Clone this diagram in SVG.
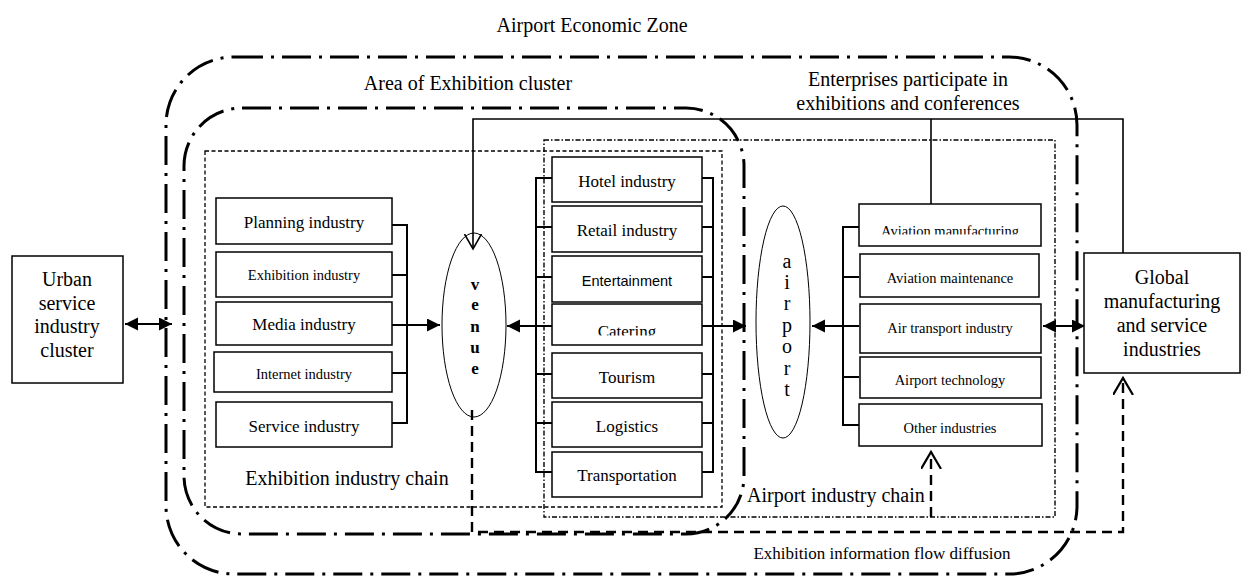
<svg xmlns="http://www.w3.org/2000/svg" width="1242" height="576" viewBox="0 0 1242 576">
<style>
.t{font-family:"Liberation Serif","Times New Roman",serif;fill:#000;text-anchor:middle}
.s{font-family:"Liberation Sans",Arial,sans-serif;fill:#000;text-anchor:middle}
.f20{font-size:20px}.f17{font-size:17px}.f14{font-size:14.5px}
.box{fill:#fff;stroke:#000;stroke-width:1.5}
.dd{fill:none;stroke:#000;stroke-width:3;stroke-dasharray:29 8 3 8}
.fd{fill:none;stroke:#000;stroke-width:1.3;stroke-dasharray:4 2.5}
.fdd{fill:none;stroke:#000;stroke-width:1.4;stroke-dasharray:5 2 1.5 2}
.ln{fill:none;stroke:#000;stroke-width:1.6}
.br{fill:none;stroke:#000;stroke-width:2}
.dsh{fill:none;stroke:#000;stroke-width:2.4;stroke-dasharray:10 6}
.el{fill:none;stroke:#000;stroke-width:1}
</style>
<defs>
<marker id="fa" markerUnits="userSpaceOnUse" markerWidth="14" markerHeight="14" refX="13" refY="6.5" orient="auto-start-reverse" viewBox="0 0 14 14">
<path d="M0,0 L13,6.5 L0,13 z" fill="#000" stroke="none"/>
</marker>
<marker id="oa" markerUnits="userSpaceOnUse" markerWidth="20" markerHeight="22" refX="17" refY="10" orient="auto" viewBox="0 0 20 22">
<path d="M0,0 L17,10 L0,20" fill="none" stroke="#000" stroke-width="2.2" stroke-dasharray="none"/>
</marker>
<marker id="ov" markerUnits="userSpaceOnUse" markerWidth="18" markerHeight="20" refX="15" refY="8.5" orient="auto" viewBox="0 0 18 20">
<path d="M0,0 L15,8.5 L0,17" fill="none" stroke="#000" stroke-width="1.6"/>
</marker>
<clipPath id="clipCat"><rect x="552" y="300" width="150" height="35.5"/></clipPath>
<clipPath id="clipAvm"><rect x="859" y="200" width="182" height="34.5"/></clipPath>
</defs>

<g id="zones">
<rect id="airport-economic-zone" class="dd" x="166" y="57" width="911" height="517" rx="68" ry="68"/>
<rect id="exhibition-cluster" class="dd" x="184" y="108" width="560" height="426" rx="58" ry="58"/>
<rect id="exhibition-chain" class="fd" x="205" y="151" width="517" height="356"/>
<rect id="airport-chain" class="fdd" x="544" y="140" width="511" height="377"/>
</g>

<g id="labels">
<text class="t f20" x="592" y="32">Airport Economic Zone</text>
<text class="t f20" x="468" y="90">Area of Exhibition cluster</text>
<text class="t f20" x="908" y="86">Enterprises participate in</text>
<text class="t f20" x="908" y="110">exhibitions and conferences</text>
<text class="t f20" x="347" y="485">Exhibition industry chain</text>
<text class="t f20" x="747" y="502" style="text-anchor:start">Airport industry chain</text>
<text class="t f17" x="882" y="559">Exhibition information flow diffusion</text>
</g>

<g id="connectors">
<path class="ln" d="M1123,253 V119 H473 V249" marker-end="url(#ov)"/>
<path class="ln" d="M931,119 V204"/>
<path class="dsh" d="M472,410 V532 H1123 V378" marker-end="url(#oa)"/>
<path class="dsh" d="M931,517 V452" marker-end="url(#oa)"/>
<path class="br" d="M392,325 H440" marker-end="url(#fa)"/>
<path class="br" d="M552,326 H507" marker-end="url(#fa)"/>
<path class="br" d="M702,326 H746" marker-end="url(#fa)"/>
<path class="br" d="M859,326 H812" marker-end="url(#fa)"/>
<path class="br" d="M1043,326 H1085" marker-start="url(#fa)" marker-end="url(#fa)"/>
<path class="br" d="M125,324 H172" marker-start="url(#fa)" marker-end="url(#fa)"/>
<path class="br" d="M392,225 H407 V423 H392 M392,275 H407 M392,373 H407"/>
<path class="br" d="M552,178 H536 V472 H552 M536,227 H552 M536,277 H552 M536,374 H552 M536,423 H552"/>
<path class="br" d="M702,178 H713 V472 H702 M702,227 H713 M702,277 H713 M702,374 H713 M702,423 H713"/>
<path class="br" d="M859,227 H843 V425 H859 M843,277 H859 M843,377 H859"/>
</g>

<g id="urban">
<rect class="box" x="12" y="256" width="111" height="127"/>
<text class="t f20" x="67" y="286">Urban</text>
<text class="t f20" x="67" y="310">service</text>
<text class="t f20" x="67" y="333">industry</text>
<text class="t f20" x="67" y="357">cluster</text>
</g>

<g id="global">
<rect class="box" x="1084" y="253" width="156" height="120"/>
<text class="t f20" x="1162" y="284">Global</text>
<text class="t f20" x="1162" y="308">manufacturing</text>
<text class="t f20" x="1162" y="332">and service</text>
<text class="t f20" x="1162" y="356">industries</text>
</g>

<g id="planning"><rect class="box" x="216" y="198" width="176" height="46"/><text class="t f17" x="304" y="228">Planning industry</text></g>
<g id="exhibition"><rect class="box" x="216" y="252" width="176" height="45"/><text class="t f14" x="304" y="280">Exhibition industry</text></g>
<g id="media"><rect class="box" x="216" y="302" width="176" height="43"/><text class="t f17" x="304" y="330">Media industry</text></g>
<g id="internet"><rect class="box" x="214" y="352" width="178" height="40"/><text class="t f14" x="304" y="379">Internet industry</text></g>
<g id="service"><rect class="box" x="216" y="402" width="176" height="45"/><text class="t f17" x="304" y="432">Service industry</text></g>

<g id="venue">
<ellipse class="el" cx="474" cy="325" rx="32" ry="92"/>
<text class="t" style="font-size:17px;font-weight:bold"><tspan x="475" y="290">v</tspan><tspan x="475" y="310">e</tspan><tspan x="475" y="332">n</tspan><tspan x="475" y="353">u</tspan><tspan x="475" y="374">e</tspan></text>
</g>

<g id="hotel"><rect class="box" x="552" y="157" width="150" height="45"/><text class="t f17" x="627" y="187">Hotel industry</text></g>
<g id="retail"><rect class="box" x="552" y="206" width="150" height="46"/><text class="t f17" x="627" y="236">Retail industry</text></g>
<g id="entertainment"><rect class="box" x="552" y="256" width="150" height="46"/><text class="s" style="font-size:14.5px" x="627" y="286">Entertainment</text></g>
<g id="catering"><rect class="box" x="552" y="304" width="150" height="41"/><text class="t f17" x="627" y="337" clip-path="url(#clipCat)">Catering</text></g>
<g id="tourism"><rect class="box" x="552" y="353" width="150" height="45"/><text class="t f17" x="627" y="383">Tourism</text></g>
<g id="logistics"><rect class="box" x="552" y="402" width="150" height="45"/><text class="t f17" x="627" y="432">Logistics</text></g>
<g id="transportation"><rect class="box" x="552" y="452" width="150" height="45"/><text class="t f17" x="627" y="481">Transportation</text></g>

<g id="airport">
<ellipse class="el" cx="783" cy="322" rx="27" ry="116"/>
<text class="t" style="font-size:20px"><tspan x="787" y="268">a</tspan><tspan x="787" y="289">i</tspan><tspan x="787" y="310">r</tspan><tspan x="787" y="332">p</tspan><tspan x="787" y="353">o</tspan><tspan x="787" y="375">r</tspan><tspan x="787" y="396">t</tspan></text>
</g>

<g id="aviation-manufacturing"><rect class="box" x="859" y="204" width="182" height="42"/><text class="t f14" x="950" y="236" clip-path="url(#clipAvm)">Aviation manufacturing</text></g>
<g id="aviation-maintenance"><rect class="box" x="860" y="254" width="179" height="43"/><text class="t f14" x="950" y="283">Aviation maintenance</text></g>
<g id="air-transport"><rect class="box" x="860" y="304" width="181" height="49"/><text class="t f14" x="950" y="333">Air transport industry</text></g>
<g id="airport-technology"><rect class="box" x="860" y="357" width="181" height="41"/><text class="t f14" x="950" y="385">Airport technology</text></g>
<g id="other"><rect class="box" x="859" y="404" width="183" height="42"/><text class="t f14" x="950" y="433">Other industries</text></g>
</svg>
